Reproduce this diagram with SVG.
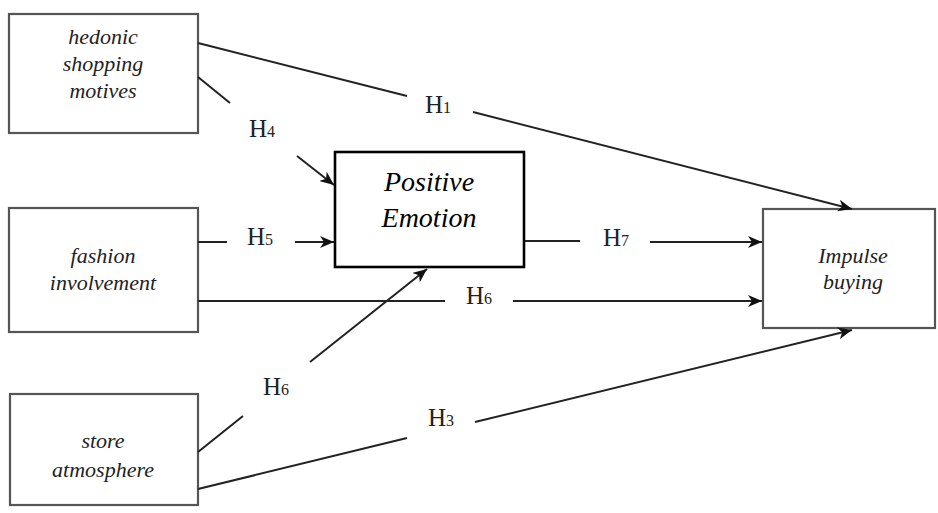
<svg xmlns="http://www.w3.org/2000/svg" width="938" height="513" viewBox="0 0 938 513">
<style>
.box{fill:#fff;stroke:#555;stroke-width:2.2}
.pbox{fill:#fff;stroke:#000;stroke-width:2.6}
.nt{font-family:"Liberation Serif",serif;font-style:italic;font-size:22px;fill:#222;text-anchor:middle}
.pt{font-family:"Liberation Serif",serif;font-style:italic;font-size:28px;fill:#000;text-anchor:middle}
.lb{font-family:"Liberation Serif",serif;font-size:25px;fill:#222}
.sub{font-size:16px}
.ln{stroke:#222;stroke-width:2;fill:none}
</style>
<defs>
<marker id="ah" markerUnits="userSpaceOnUse" markerWidth="16" markerHeight="12" refX="14" refY="6" orient="auto">
<path d="M0,0 L14,6 L0,12 L4,6 z" fill="#111"/>
</marker>
</defs>
<g id="hedonic">
<rect class="box" x="9" y="14" width="189" height="119"/>
<text class="nt" x="103" y="44">hedonic</text>
<text class="nt" x="103" y="71">shopping</text>
<text class="nt" x="103" y="98">motives</text>
</g>
<g id="fashion">
<rect class="box" x="9" y="208" width="189" height="124"/>
<text class="nt" x="103" y="263">fashion</text>
<text class="nt" x="103" y="290">involvement</text>
</g>
<g id="store">
<rect class="box" x="10" y="394" width="188" height="111"/>
<text class="nt" x="103" y="448">store</text>
<text class="nt" x="103" y="477">atmosphere</text>
</g>
<g id="positive">
<rect class="pbox" x="335" y="152" width="189" height="115"/>
<text class="pt" x="429" y="191">Positive</text>
<text class="pt" x="429" y="227">Emotion</text>
</g>
<g id="impulse">
<rect class="box" x="763" y="209" width="172" height="119"/>
<text class="nt" x="853" y="263">Impulse</text>
<text class="nt" x="853" y="289">buying</text>
</g>
<g id="connectors">
<line class="ln" x1="198" y1="43" x2="407" y2="96"/>
<line class="ln" x1="473" y1="112" x2="852" y2="209" marker-end="url(#ah)"/>
<line class="ln" x1="198" y1="77" x2="230" y2="103"/>
<line class="ln" x1="297" y1="156" x2="334" y2="185" marker-end="url(#ah)"/>
<line class="ln" x1="198" y1="242" x2="227" y2="242"/>
<line class="ln" x1="295" y1="242" x2="334" y2="242" marker-end="url(#ah)"/>
<line class="ln" x1="198" y1="301" x2="445" y2="301"/>
<line class="ln" x1="513" y1="301" x2="762" y2="301" marker-end="url(#ah)"/>
<line class="ln" x1="525" y1="241" x2="580" y2="241"/>
<line class="ln" x1="650" y1="242" x2="762" y2="242" marker-end="url(#ah)"/>
<line class="ln" x1="198" y1="452" x2="243" y2="416"/>
<line class="ln" x1="310" y1="362" x2="427" y2="269" marker-end="url(#ah)"/>
<line class="ln" x1="198" y1="489" x2="407" y2="438"/>
<line class="ln" x1="475" y1="422" x2="852" y2="330" marker-end="url(#ah)"/>
</g>
<g id="labels">
<text class="lb" x="425" y="113">H<tspan class="sub">1</tspan></text>
<text class="lb" x="249" y="137">H<tspan class="sub">4</tspan></text>
<text class="lb" x="247" y="245">H<tspan class="sub">5</tspan></text>
<text class="lb" x="466" y="304">H<tspan class="sub">6</tspan></text>
<text class="lb" x="603" y="246">H<tspan class="sub">7</tspan></text>
<text class="lb" x="263" y="395">H<tspan class="sub">6</tspan></text>
<text class="lb" x="428" y="426">H<tspan class="sub">3</tspan></text>
</g>
</svg>
